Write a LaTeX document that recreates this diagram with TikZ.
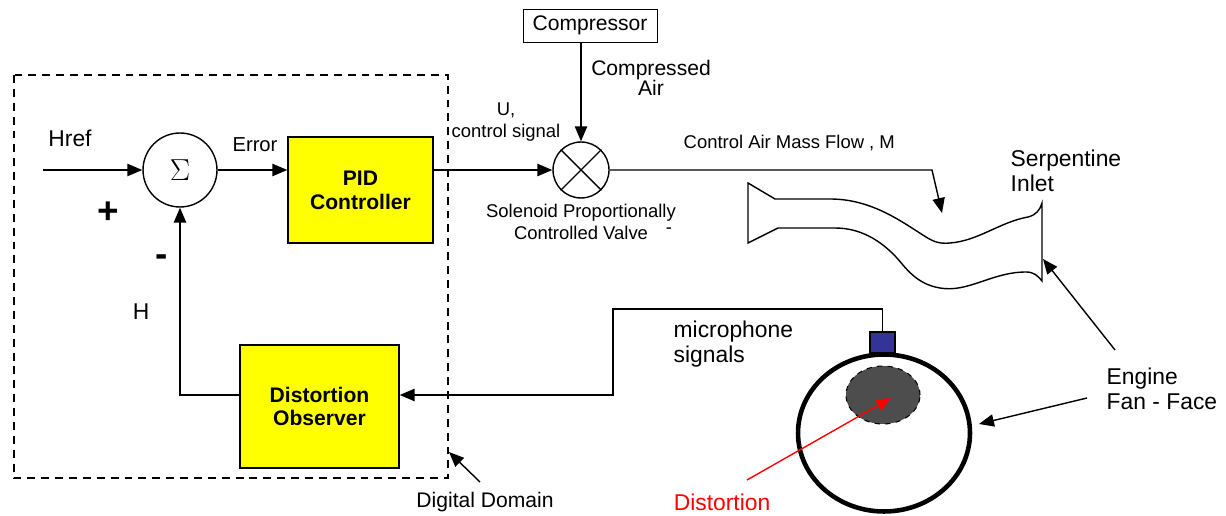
\documentclass[tikz,border=0pt]{standalone}
\usepackage{fontspec}
\setmainfont{Liberation Sans}
\usetikzlibrary{arrows.meta,shapes.geometric}

\definecolor{boxyellow}{RGB}{255,255,0}
\definecolor{micblue}{RGB}{51,51,153}
\definecolor{blobgrey}{RGB}{77,77,77}
\newcommand{\fs}[2]{\fontsize{#1}{#2}\selectfont}

\begin{document}
\begin{tikzpicture}[x=0.02cm, y=-0.02cm, line width=0.8pt,
        >={Triangle[length=8.5pt,width=7pt]},
        block/.style={draw, fill=boxyellow, inner sep=0pt, align=center, font=\fs{12}{13.5}\bfseries},
        junction/.style={draw, circle, inner sep=0pt},
        lbl/.style={inner sep=0pt, align=center, font=\fs{10.5}{12.5}},
        biglbl/.style={inner sep=0pt, align=left, font=\fs{13}{14.5}},
        sign/.style={inner sep=0pt, font=\fs{21}{21}\bfseries}]
    \useasboundingbox (0,0) rectangle (1226,516);

    % digital part
    \draw [dash pattern=on 4.5pt off 3.4pt] (14,75) rectangle (448,478);
    \node [junction, minimum size=1.48cm] (sum) at (180,170) {\fs{16}{16}$\Sigma$};
    \node [block, minimum width=2.9cm, minimum height=2.12cm] (pid) at (360.5,190) {PID\\Controller};
    \node [block, minimum width=3.18cm, minimum height=2.46cm] (obs) at (319.5,406.5) {Distortion\\Observer};

    % valve and compressor
    \node [junction, minimum size=1.12cm] (valve) at (581,170) {};
    \draw (valve.north west) -- (valve.south east) (valve.north east) -- (valve.south west);
    \node [draw, line width=0.5pt, inner sep=0pt, minimum width=2.68cm, minimum height=0.66cm,
        font=\fs{12}{12}] (comp) at (590,25.5) {Compressor};

    % engine face
    \node [draw, ellipse, line width=2.6pt, minimum width=3.44cm, minimum height=3.14cm] (engine) at (884,433) {};
    \node [draw, ellipse, dashed, line width=0.6pt, fill=blobgrey, minimum width=1.48cm, minimum height=1.16cm] (blob) at (883,395) {};
    \node [draw, fill=micblue, line width=0.6pt, inner sep=0pt, minimum width=0.5cm, minimum height=0.42cm] (mic) at (882.5,342.5) {};

    % serpentine inlet
    \draw (748,183) -- (775,199) -- (830,199)
        .. controls (872,199) and (902,222) .. (926,237)
        .. controls (934,242) and (940,244) .. (950,243)
        .. controls (978,241) and (1000,222) .. (1028,217)
        .. controls (1036,215) and (1040,210) .. (1042,203) -- (1042,281)
        .. controls (1038,276) and (1034,272) .. (1026,272)
        .. controls (992,272) and (968,293) .. (940,288)
        .. controls (916,284) and (906,268) .. (896,257)
        .. controls (880,240) and (860,228) .. (835,228)
        -- (778,228) -- (748,243) -- cycle;

    \coordinate (href) at (43,170);
    \coordinate (flowbend) at (932,170);
    \coordinate (flowend) at (942,213);
    \coordinate (wire1) at (613,309);
    \coordinate (wire2) at (613,395);
    \coordinate (inletedge) at (1043,259);
    \coordinate (faceedge) at (979,424);
    \coordinate (domaincorner) at (449,452);
    \coordinate (distortionpt) at (891,398);

    % signal paths
    \draw [->] (href) -- (sum);
    \draw [->] (sum.east) -- (sum.east -| pid.west);
    \draw [->] (sum.east -| pid.east) -- (valve.west);
    \draw [->] (comp.south -| valve.north) -- (valve.north);
    \draw [->] (valve.east) -- (flowbend) -- (flowend);
    \draw [->] (mic.north) |- (wire1) -- (wire2) -- (wire2 -| obs.east);
    \draw [->] (wire2 -| obs.west) -| (sum.south);

    % labels
    \node [biglbl] (hreflbl) at (70,138) {Href};
    \node [sign] (plus) at (108,213) {+};
    \node [sign] (minus) at (162,261) {-};
    \node [lbl, font=\fs{11.5}{12}] (errlbl) at (255,145) {Error};
    \node [biglbl] (hlbl) at (141,312) {H};
    \node [lbl] (ulbl) at (506,122) {U,\\control signal};
    \node [lbl, font=\fs{12}{11.5}] (airlbl) at (651,78) {Compressed\\Air};
    \node [lbl] (valvelbl) at (581,222) {Solenoid Proportionally\\Controlled Valve};
    \node [lbl] (dash) at (669,231) {-};
    \node [lbl, anchor=west] (flowlbl) at (683,143) {Control Air Mass Flow , M};
    \node [biglbl, anchor=west] (inletlbl) at (1010,171) {Serpentine\\Inlet};
    \node [biglbl, anchor=west] (miclbl) at (673,344) {microphone\\signals};
    \node [biglbl, anchor=west] (enginelbl) at (1106,389) {Engine\\Fan - Face};
    \node [biglbl, text=red] (distlbl) at (722,502) {Distortion};
    \node [lbl, font=\fs{12}{12}] (domainlbl) at (485,502) {Digital Domain};

    % pointers
    \draw [->] (1115,350) -- (inletedge);
    \draw [->] (1087,398) -- (faceedge);
    \draw [->] (480,482) -- (domaincorner);
    \draw [->, red] (747,480) -- (distortionpt);
\end{tikzpicture}
\end{document}
